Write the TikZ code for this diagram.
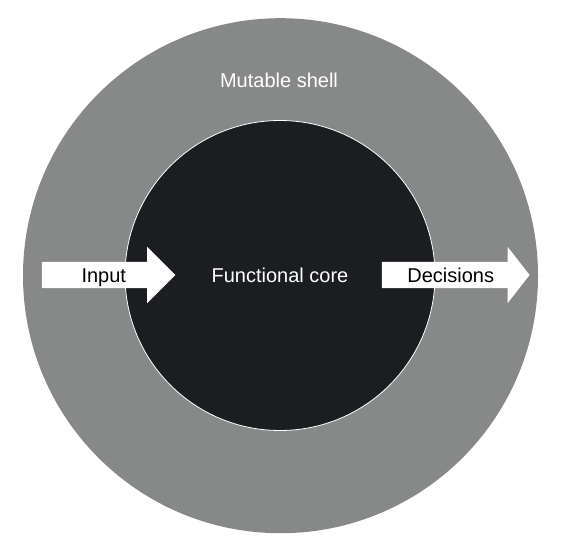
\documentclass[tikz,border=0pt]{standalone}
\usepackage{fontspec}
\setmainfont{Liberation Sans}
\usetikzlibrary{positioning,shapes.arrows}
\definecolor{shellgrey}{HTML}{878888}
\definecolor{coreblack}{HTML}{1B1D20}
\tikzset{
  shell/.style ={circle, fill=shellgrey, inner sep=0pt, minimum size=515pt},
  core/.style  ={circle, fill=coreblack, draw=white, line width=0.8pt,
                 inner sep=0pt, minimum size=310pt},
  flow/.style  ={single arrow, fill=white, text=black, align=right,
                 single arrow head extend=15pt, single arrow head indent=0pt,
                 inner ysep=4pt, text height=16.5pt, text depth=1.5pt,
                 font=\fontsize{20}{24}\selectfont},
  lbl/.style   ={text=white, inner sep=0pt, font=\fontsize{20}{24}\selectfont}
}

\begin{document}
\begin{tikzpicture}[x=1pt,y=-1pt]
\useasboundingbox (0,0) rectangle (569,553);
\node[shell] (shell) at (280.5,275.7) {};
\node[core] (core) at (280,275.5) {};
\node[lbl] (shelltext) at (279,80) {Mutable shell};
\node[lbl] (coretext) at (core.center) {Functional core};
\node[flow, text width=48pt, inner xsep=36pt] (input) at (102,275) {Input};
\node[flow, text width=87pt, inner xsep=25pt, single arrow tip angle=104]
  (decisions) at (450.6,275) {Decisions};
\end{tikzpicture}
\end{document}
